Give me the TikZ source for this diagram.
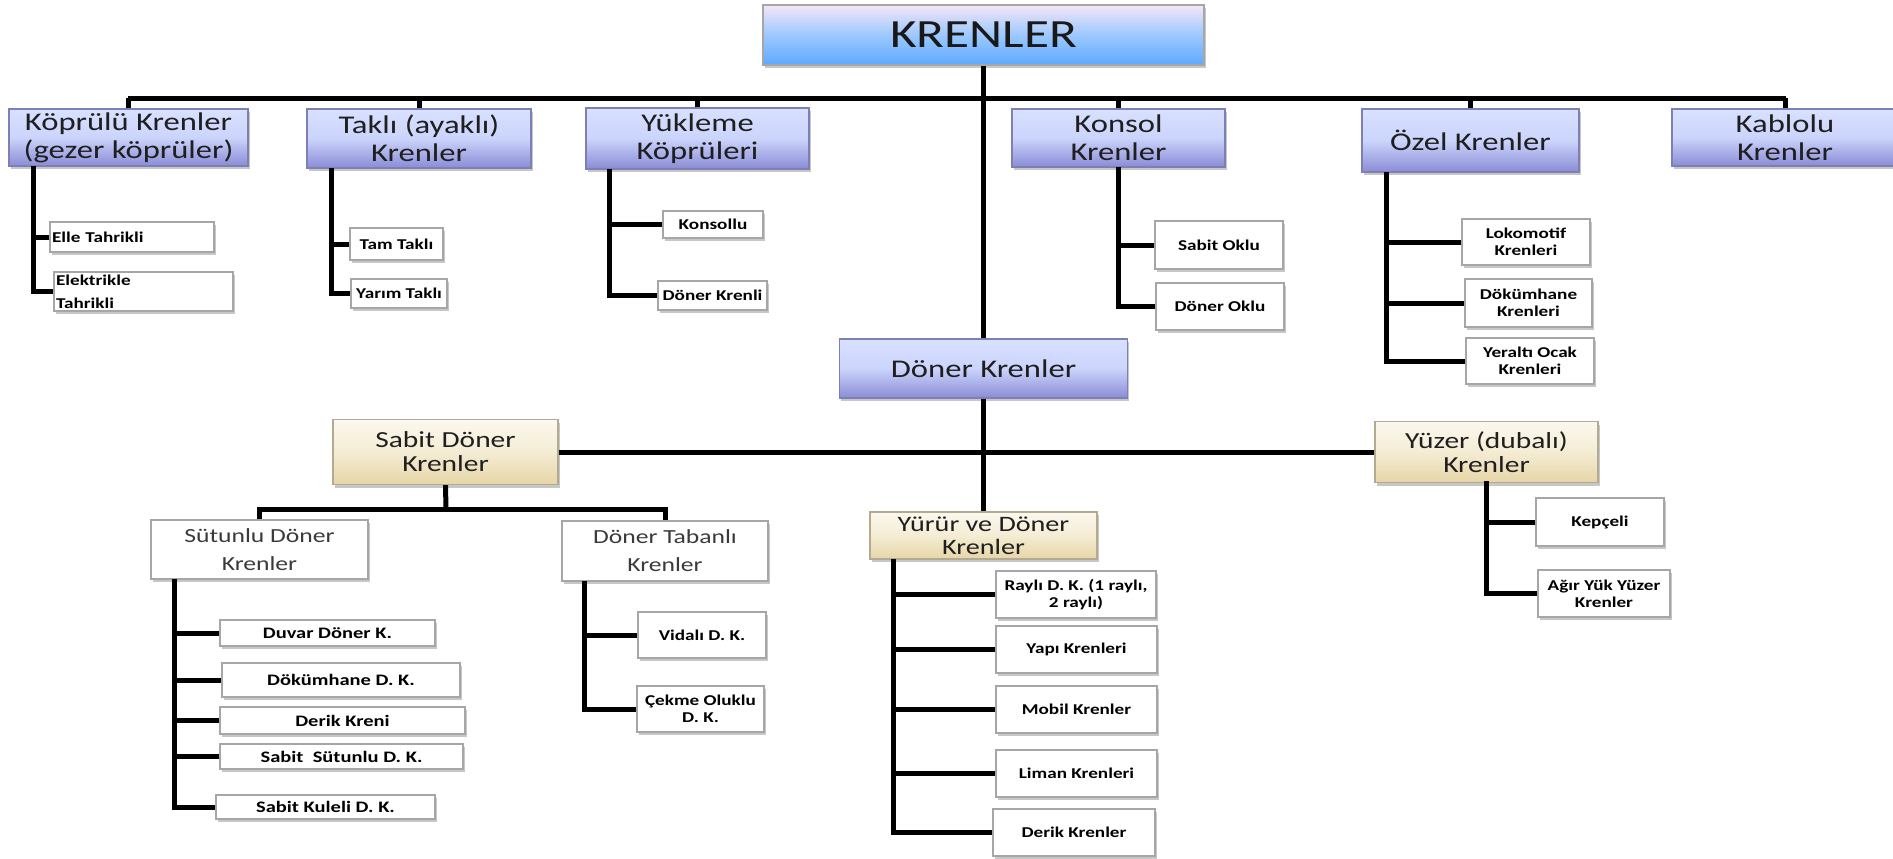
\documentclass[tikz,border=0pt]{standalone}
\usepackage{fontspec}
\setmainfont{Carlito}[FakeStretch=1.28]
\usetikzlibrary{shadows}
\definecolor{bA}{HTML}{D8E1FF}
\definecolor{bM}{HTML}{CBD4FB}
\definecolor{bB}{HTML}{8A8CD6}
\definecolor{bD}{HTML}{7C80B4}
\definecolor{rA}{HTML}{F4E6F6}
\definecolor{rM}{HTML}{9CC8FF}
\definecolor{rB}{HTML}{5EA9FF}
\definecolor{tA}{HTML}{FCF8EE}
\definecolor{tM}{HTML}{F4ECD4}
\definecolor{tB}{HTML}{E6D5A6}
\definecolor{tD}{HTML}{B3AA92}
\definecolor{gB}{HTML}{A6A6A6}
\definecolor{txg}{HTML}{3A3A3A}
\begin{document}
\begin{tikzpicture}[x=1pt,y=-1pt,
  shd/.style={drop shadow={shadow xshift=1.5pt,shadow yshift=-3pt,opacity=0.22,fill=black}},
  rootbox/.style={shd,draw=gB,line width=1.2pt,top color=rA,bottom color=rB,middle color=rM,
    inner sep=0pt,align=center,font=\fontsize{40}{42}\selectfont,text=black!90},
  lone/.style={shd,draw=bD,line width=1.2pt,top color=bA,bottom color=bB,middle color=bM,
    inner sep=0pt,align=center,font=\fontsize{25.5}{28}\selectfont,text=black!88},
  ltwo/.style={shd,draw=tD,line width=1.2pt,top color=tA,bottom color=tB,middle color=tM,
    inner sep=0pt,align=center,font=\fontsize{23}{24}\selectfont,text=black!88},
  wsub/.style={shd,draw=gB,line width=1.2pt,fill=white,inner sep=0pt,align=center,
    font=\fontsize{20}{28}\selectfont,text=txg},
  leaf/.style={shd,draw=gB,line width=1.1pt,fill=white,inner sep=0pt,align=center,
    font=\bfseries\fontsize{15}{17}\selectfont,text=black},
  conn/.style={draw=black,line width=5pt,line join=miter}
]
\useasboundingbox (0,0) rectangle (1893,859);

% root and level 1
\node[rootbox,minimum width=441,minimum height=60] (root) at (983.5,35) {KRENLER};
\node[lone,minimum width=239,minimum height=57] (kop) at (128.5,137.5) {Köprülü Krenler\\(gezer köprüler)};
\node[lone,minimum width=224,minimum height=59] (tak) at (419,138.5) {Taklı (ayaklı)\\Krenler};
\node[lone,minimum width=223,minimum height=61] (yuk) at (697.5,138.5) {Yükleme\\Köprüleri};
\node[lone,minimum width=213,minimum height=58] (kon) at (1118.5,138) {Konsol\\Krenler};
\node[lone,minimum width=217,minimum height=63] (oze) at (1470.5,140.5) {Özel Krenler};
\node[lone,minimum width=226,minimum height=57] (kab) at (1785,137.5) {Kablolu\\Krenler};
\node[lone,minimum width=288,minimum height=59] (don) at (983.5,368.5) {Döner Krenler};

\coordinate (busL) at (128,98);
\coordinate (busR) at (1786,98);
\draw[conn] (busL) -- (busR);
\draw[conn] (root.south) -- (don.north);
\foreach \n in {kop,tak,yuk,kon,oze,kab} {\draw[conn] (\n.north) -- (\n.north |- busL);}

% children of level 1
\node[leaf,text width=160,align=left,minimum height=30,inner xsep=2pt] (elle) at (132,237) {Elle Tahrikli};
\node[leaf,text width=175,align=left,minimum height=39,inner xsep=2pt,font=\bfseries\fontsize{15}{23}\selectfont] (elek) at (143.5,291.5) {Elektrikle\\Tahrikli};
\coordinate (kv) at (33,166);
\draw[conn] (kv) |- (elle.west);
\draw[conn] (kv) |- (elek.west);

\node[leaf,minimum width=93,minimum height=32] (tam) at (396.5,244) {Tam Taklı};
\node[leaf,minimum width=96,minimum height=29] (yar) at (399,293.5) {Yarım Taklı};
\coordinate (tv) at (331,168);
\draw[conn] (tv) |- (tam.west);
\draw[conn] (tv) |- (yar.west);

\node[leaf,minimum width=100,minimum height=27] (kons) at (713,224.5) {Konsollu};
\node[leaf,minimum width=109,minimum height=29] (dkr) at (712.5,295.5) {Döner Krenli};
\coordinate (yv) at (609,169);
\draw[conn] (yv) |- (kons.west);
\draw[conn] (yv) |- (dkr.west);

\node[leaf,minimum width=128,minimum height=48] (sok) at (1219,245) {Sabit Oklu};
\node[leaf,minimum width=128,minimum height=47] (dok) at (1220,306.5) {Döner Oklu};
\coordinate (nv) at (1118,167);
\draw[conn] (nv) |- (sok.west);
\draw[conn] (nv) |- (dok.west);

\node[leaf,minimum width=128,minimum height=46] (lok) at (1526,242) {Lokomotif\\Krenleri};
\node[leaf,minimum width=127,minimum height=48] (dkm) at (1528.5,303) {Dökümhane\\Krenleri};
\node[leaf,minimum width=128,minimum height=46] (yer) at (1530,361) {Yeraltı Ocak\\Krenleri};
\coordinate (ov) at (1386,172);
\draw[conn] (ov) |- (lok.west);
\draw[conn] (ov) |- (dkm.west);
\draw[conn] (ov) |- (yer.west);

% level 2
\node[ltwo,minimum width=225,minimum height=65] (sab) at (445.5,452) {Sabit Döner\\Krenler};
\node[ltwo,minimum width=223,minimum height=61] (yuz) at (1486.5,452) {Yüzer (dubalı)\\Krenler};
\node[ltwo,minimum width=227,minimum height=47,font=\fontsize{22}{23}\selectfont] (yur) at (983.5,535.5) {Yürür ve Döner\\Krenler};
\draw[conn] (sab.east) -- (yuz.west);
\draw[conn] (don.south) -- (yur.north);

\node[wsub,minimum width=217,minimum height=59] (sut) at (259.5,549.5) {Sütunlu Döner\\Krenler};
\node[wsub,minimum width=206,minimum height=60] (tab) at (665,551) {Döner Tabanlı\\Krenler};
\coordinate (sbus) at (446,509);
\draw[conn] (sab.south) -- (sbus);
\draw[conn] (sut.north) -- (sut.north |- sbus) -- (tab.north |- sbus) -- (tab.north);

\node[leaf,minimum width=215,minimum height=26,font=\bfseries\fontsize{16}{18}\selectfont] (duv) at (327.5,633) {Duvar Döner K.};
\node[leaf,minimum width=238,minimum height=34,font=\bfseries\fontsize{16}{18}\selectfont] (dkk) at (341,680) {Dökümhane D. K.};
\node[leaf,minimum width=245,minimum height=27,font=\bfseries\fontsize{16}{18}\selectfont] (der) at (342.5,720.5) {Derik Kreni};
\node[leaf,minimum width=243,minimum height=25,font=\bfseries\fontsize{16}{18}\selectfont] (sss) at (341.5,756.5) {Sabit\ \ Sütunlu D. K.};
\node[leaf,minimum width=219,minimum height=24,font=\bfseries\fontsize{16}{18}\selectfont] (sku) at (325.5,807) {Sabit Kuleli D. K.};
\coordinate (suv) at (174,579);
\foreach \n in {duv,dkk,der,sss,sku} {\draw[conn] (suv) |- (\n.west);}

\node[leaf,minimum width=128,minimum height=46] (vid) at (702,635) {Vidalı D. K.};
\node[leaf,minimum width=127,minimum height=46] (cek) at (700.5,709) {Çekme Oluklu\\D. K.};
\coordinate (tbv) at (584,581);
\draw[conn] (tbv) |- (vid.west);
\draw[conn] (tbv) |- (cek.west);

\node[leaf,minimum width=160,minimum height=47] (ray) at (1076,594.5) {Raylı D. K. (1 raylı,\\2 raylı)};
\node[leaf,minimum width=161,minimum height=47] (yap) at (1076.5,649.5) {Yapı Krenleri};
\node[leaf,minimum width=161,minimum height=47] (mob) at (1076.5,709.5) {Mobil Krenler};
\node[leaf,minimum width=161,minimum height=47] (lim) at (1076.5,773.5) {Liman Krenleri};
\node[leaf,minimum width=162,minimum height=47] (drk) at (1074,832.5) {Derik Krenler};
\coordinate (yrv) at (893,559);
\foreach \n in {ray,yap,mob,lim,drk} {\draw[conn] (yrv) |- (\n.west);}

\node[leaf,minimum width=128,minimum height=48] (kep) at (1600,522) {Kepçeli};
\node[leaf,minimum width=132,minimum height=47] (agr) at (1604,593.5) {Ağır Yük Yüzer\\Krenler};
\coordinate (yzv) at (1486,481);
\draw[conn] (yzv) |- (kep.west);
\draw[conn] (yzv) |- (agr.west);
\end{tikzpicture}
\end{document}
